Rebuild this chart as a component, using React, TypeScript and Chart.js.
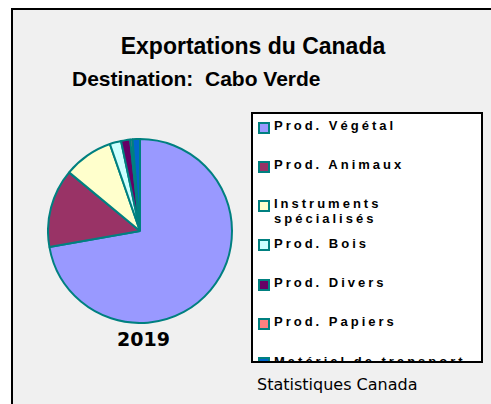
import React, { useEffect, useRef } from "react";
import { Chart, registerables } from "chart.js";

Chart.register(...registerables);

const categories = [
  "Prod. Végétal",
  "Prod. Animaux",
  "Instruments spécialisés",
  "Prod. Bois",
  "Prod. Divers",
  "Prod. Papiers",
  "Matériel de transport",
];
const shares2019 = [72.2, 13.8, 8.7, 2.0, 1.6, 0.4, 1.3];
const sliceColors = [
  "#9999FF",
  "#993366",
  "#FFFFCC",
  "#CCFFFF",
  "#660066",
  "#FF8080",
  "#0066CC",
];
const titleText = "Exportations du Canada";
const subtitleText = "Destination:\u00a0 Cabo Verde";
const yearLabel = "2019";
const sourceText = "Statistiques Canada";

const ROW_STEP = 39.3;
const LINE_H = 19.65;

export default function App() {
  const ref = useRef<HTMLCanvasElement>(null);

  useEffect(() => {
    document.body.style.margin = "0";
    const chart = new Chart(ref.current!, {
      type: "pie",
      data: {
        labels: categories,
        datasets: [
          {
            data: shares2019,
            backgroundColor: sliceColors,
            borderColor: "#008080",
            borderWidth: 2,
          },
        ],
      },
      options: {
        responsive: false,
        animation: false,
        devicePixelRatio: 1,
        layout: { padding: 0 },
        plugins: {
          legend: { display: false },
          tooltip: { enabled: false },
          title: { display: false },
        },
      },
    });
    return () => chart.destroy();
  }, []);

  return (
    <div
      style={{
        position: "relative",
        width: 491,
        height: 404,
        background: "#ffffff",
        overflow: "hidden",
      }}
    >
      <div
        style={{
          position: "absolute",
          left: 11,
          top: 8,
          width: 520,
          height: 440,
          borderTop: "2px solid #000",
          borderLeft: "2px solid #000",
          background: "#f0f0f0",
        }}
      />
      <div
        style={{
          position: "absolute",
          left: 0,
          width: 506,
          top: 33,
          lineHeight: "28px",
          textAlign: "center",
          font: "bold 23px 'Liberation Sans', Arial, sans-serif",
          color: "#000",
          whiteSpace: "nowrap",
        }}
      >
        {titleText}
      </div>
      <div
        style={{
          position: "absolute",
          left: 72,
          top: 67,
          lineHeight: "26px",
          font: "bold 21px 'Liberation Sans', Arial, sans-serif",
          color: "#000",
          whiteSpace: "nowrap",
        }}
      >
        {subtitleText}
      </div>
      <canvas
        ref={ref}
        width={186}
        height={186}
        style={{ position: "absolute", left: 47, top: 138 }}
      />
      <div
        style={{
          position: "absolute",
          left: 90,
          width: 107,
          top: 328,
          lineHeight: "24px",
          textAlign: "center",
          font: "bold 19px 'DejaVu Sans', Verdana, sans-serif",
          color: "#000",
        }}
      >
        {yearLabel}
      </div>
      <div
        style={{
          position: "absolute",
          left: 251,
          top: 112,
          width: 232,
          height: 251,
          boxSizing: "border-box",
          border: "2px solid #000",
          background: "#fff",
          overflow: "hidden",
        }}
      >
        {categories.map((c, i) => (
          <div
            key={c}
            style={{
              position: "absolute",
              left: 5,
              top: 3.8 + i * ROW_STEP,
              display: "flex",
              alignItems: "flex-start",
            }}
          >
            <div
              style={{
                width: 8,
                height: 8,
                border: "2px solid #008080",
                background: sliceColors[i],
                marginTop: 3.8,
                flex: "none",
              }}
            />
            <div
              style={{
                marginLeft: 4,
                width: 200,
                lineHeight: LINE_H + "px",
                font: "bold 13px 'Liberation Sans', Arial, sans-serif",
                letterSpacing: "3px",
                color: "#000",
              }}
            >
              {c}
            </div>
          </div>
        ))}
      </div>
      <div
        style={{
          position: "absolute",
          left: 257,
          top: 375,
          lineHeight: "20px",
          font: "16px 'DejaVu Sans', Tahoma, sans-serif",
          color: "#000",
          whiteSpace: "nowrap",
        }}
      >
        {sourceText}
      </div>
    </div>
  );
}
